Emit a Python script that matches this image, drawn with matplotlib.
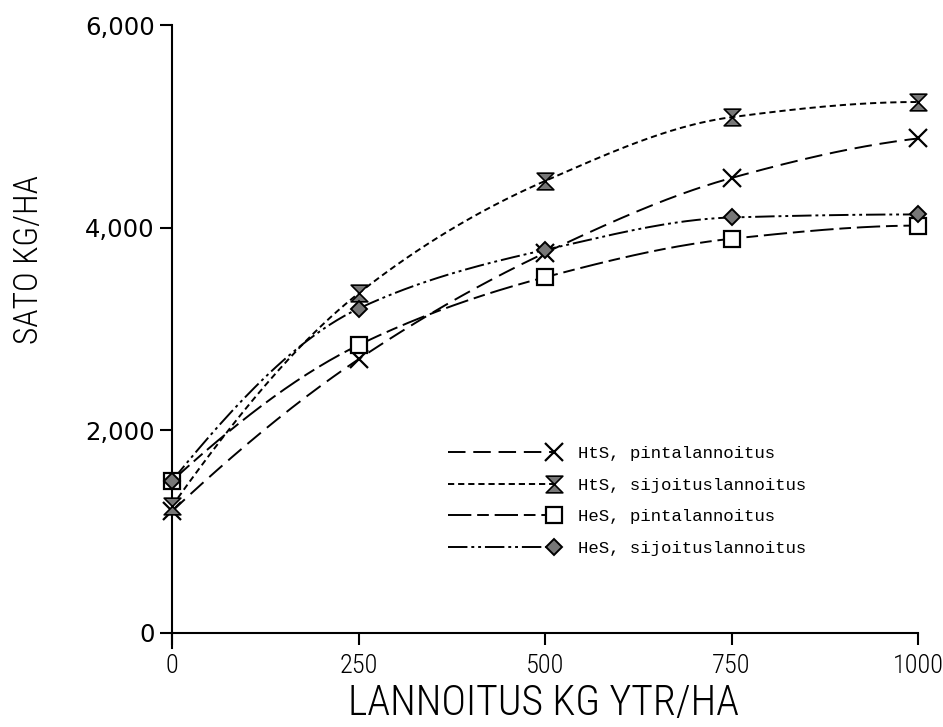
import numpy as np
import matplotlib
matplotlib.use("Agg")
import matplotlib.pyplot as plt
from matplotlib.path import Path
from matplotlib.legend_handler import HandlerLine2DCompound

# fertilizer rate, kg/ha
lannoitus = [0, 250, 500, 750, 1000]

# yield kg/ha
hts_pinta = [1200, 2700, 3750, 4490, 4880]
hts_sijoitus = [1250, 3350, 4460, 5090, 5240]
hes_pinta = [1500, 2840, 3510, 3890, 4020]
hes_sijoitus = [1500, 3200, 3780, 4100, 4130]

labels = ["HtS, pintalannoitus", "HtS, sijoituslannoitus",
          "HeS, pintalannoitus", "HeS, sijoituslannoitus"]
yticks = [0, 2000, 4000, 6000]
ytick_labels = ["0", "2,000", "4,000", "6,000"]
xticks = [0, 250, 500, 750, 1000]

NARROW = ["Roboto Condensed", "Liberation Sans Narrow", "DejaVu Sans"]


def smooth(xs, ys, n=200):
    """Shape preserving cubic (pchip style) through the points."""
    x = np.asarray(xs, float)
    y = np.asarray(ys, float)
    h = np.diff(x)
    d = np.diff(y) / h
    k = len(x)
    m = np.zeros(k)
    for i in range(1, k - 1):
        if d[i - 1] * d[i] > 0:
            w1 = 2 * h[i] + h[i - 1]
            w2 = h[i] + 2 * h[i - 1]
            m[i] = (w1 + w2) / (w1 / d[i - 1] + w2 / d[i])
    # end slopes, three point formula
    m[0] = ((2 * h[0] + h[1]) * d[0] - h[0] * d[1]) / (h[0] + h[1])
    if np.sign(m[0]) != np.sign(d[0]):
        m[0] = 0
    m[-1] = ((2 * h[-1] + h[-2]) * d[-1] - h[-1] * d[-2]) / (h[-1] + h[-2])
    if np.sign(m[-1]) != np.sign(d[-1]):
        m[-1] = 0
    xx = np.linspace(x[0], x[-1], n)
    idx = np.clip(np.searchsorted(x, xx) - 1, 0, k - 2)
    t = (xx - x[idx]) / h[idx]
    h00 = 2 * t ** 3 - 3 * t ** 2 + 1
    h10 = t ** 3 - 2 * t ** 2 + t
    h01 = -2 * t ** 3 + 3 * t ** 2
    h11 = t ** 3 - t ** 2
    yy = (h00 * y[idx] + h10 * h[idx] * m[idx]
          + h01 * y[idx + 1] + h11 * h[idx] * m[idx + 1])
    return xx, yy


class EndMarker(HandlerLine2DCompound):
    # marker sits at the right end of the legend line
    def get_xdata(self, legend, xdescent, ydescent, width, height, fontsize):
        xdata = np.array([-xdescent, -xdescent + width])
        return xdata, xdata[-1:]


hourglass = Path([(-1, 1), (1, 1), (-1, -1), (1, -1), (-1, 1)],
                 [Path.MOVETO, Path.LINETO, Path.LINETO, Path.LINETO, Path.CLOSEPOLY])

series = [
    (hts_pinta, dict(marker="x", ms=13, mew=1.6, mfc="none"), (0, (9, 4))),
    (hts_sijoitus, dict(marker=hourglass, ms=12, mew=1.2, mfc="#777777"), (0, (3.2, 2))),
    (hes_pinta, dict(marker="s", ms=11, mew=1.6, mfc="white"), (0, (12, 3, 6, 3))),
    (hes_sijoitus, dict(marker="D", ms=8, mew=1.4, mfc="#777777"), (0, (10, 2, 1.5, 2, 1.5, 2))),
]

fig = plt.figure(figsize=(9.43, 7.27), dpi=100)
ax = fig.add_axes([0.1824, 0.1087, 0.7911, 0.8569])

handles = []
for ys, mk, ls in series:
    sx, sy = smooth(lannoitus, ys)
    ax.plot(sx, sy, color="black", lw=1.4, linestyle=ls, clip_on=False)
    ax.plot(lannoitus, ys, linestyle="none", color="black", mec="black",
            clip_on=False, zorder=3, **mk)
    h, = ax.plot([], [], color="black", lw=1.4, linestyle=ls, mec="black", **mk)
    handles.append(h)

ax.set_xlim(0, 1000)
ax.set_ylim(-150, 6000)
ax.spines["top"].set_visible(False)
ax.spines["right"].set_visible(False)
ax.spines["bottom"].set_position(("data", 0))
for s in ("left", "bottom"):
    ax.spines[s].set_linewidth(1.5)

ax.set_yticks(yticks)
ax.set_yticklabels(ytick_labels, fontsize=17.5, family="DejaVu Sans")
ax.set_xticks(xticks)
ax.set_xticklabels([str(v) for v in xticks], fontsize=19, family=NARROW, fontweight="light")
ax.tick_params(axis="both", direction="out", length=8.5, width=1.5, pad=4)
ax.tick_params(axis="x", pad=7)

fig.text(29 / 943, 1 - 259 / 727, "SATO KG/HA", rotation=90, ha="center", va="center",
         fontsize=24, family=NARROW, fontweight="light")
fig.text(543 / 943, 1 - 704 / 727, "LANNOITUS KG YTR/HA", ha="center", va="center",
         fontsize=30, family=NARROW, fontweight="light")

leg = ax.legend(handles, labels, loc="center left", bbox_to_anchor=(0.349, 0.236),
                frameon=False, handlelength=6.1, handletextpad=1.4, labelspacing=0.95,
                prop=dict(family="Liberation Mono", size=12.5),
                handler_map={h: EndMarker() for h in handles})

fig.savefig("out.png", dpi=100)
